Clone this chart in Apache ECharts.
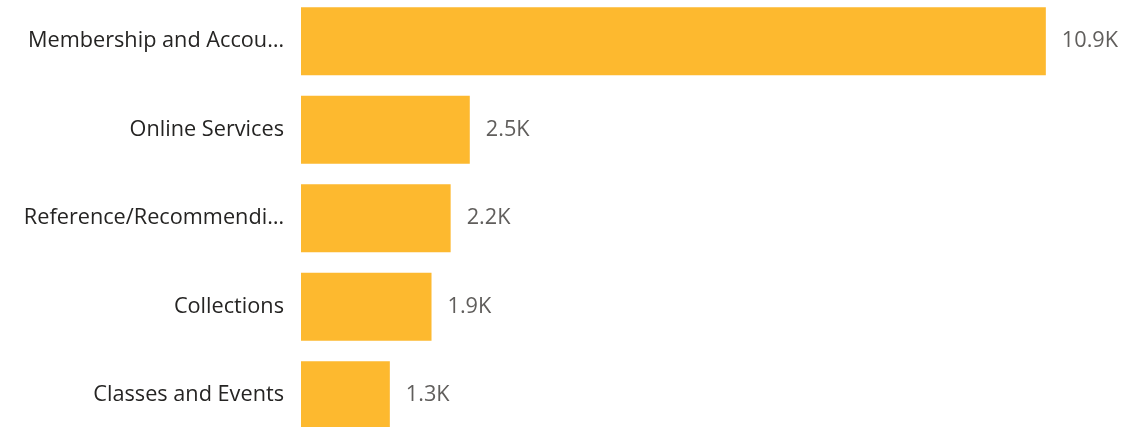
<!DOCTYPE html>
<html><head><meta charset="utf-8">
<script src="https://cdn.jsdelivr.net/npm/echarts@6/dist/echarts.min.js"></script>
<style>html,body{margin:0;padding:0;background:#fff}#c{width:1148px;height:427px}</style>
</head><body><div id="c"></div>
<script>
const categories = ["Membership and Accounts", "Online Services", "Reference/Recommending Materials", "Collections", "Classes and Events"];
const values = [10900, 2470, 2190, 1910, 1300];

const chart = echarts.init(document.getElementById('c'), null, {renderer: 'canvas'});
chart.setOption({
  animation: false,
  grid: {left: 301, width: 820, top: -3, height: 442.5, containLabel: false, outerBoundsMode: 'none'},
  xAxis: {type: 'value', min: 0, max: 12000, show: false},
  yAxis: {
    type: 'category', data: categories, inverse: true,
    axisLine: {show: false}, axisTick: {show: false},
    axisLabel: {
      color: '#252423', fontSize: 21.7, fontFamily: 'Open Sans', margin: 17,
      width: 266, overflow: 'truncate', ellipsis: '…'
    }
  },
  series: [{
    type: 'bar', data: values, barCategoryGap: '23%',
    itemStyle: {color: '#FDB92F'},
    label: {
      show: true, position: 'right', distance: 16,
      color: '#605E5C', fontSize: 21.7, fontFamily: 'Open Sans',
      formatter: p => (p.value / 1000).toFixed(1) + 'K'
    }
  }]
});
</script></body></html>
